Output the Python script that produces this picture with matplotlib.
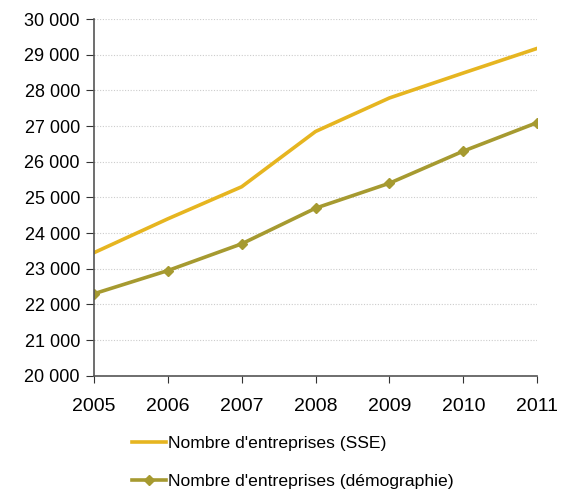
import matplotlib
matplotlib.use("Agg")
import matplotlib.pyplot as plt
from matplotlib.ticker import FuncFormatter

# Données
annees = [2005, 2006, 2007, 2008, 2009, 2010, 2011]
entreprises_sse = [23450, 24400, 25300, 26850, 27790, 28490, 29180]
entreprises_demo = [22300, 22950, 23700, 24700, 25400, 26300, 27100]

label_sse = "Nombre d'entreprises (SSE)"
label_demo = "Nombre d'entreprises (démographie)"

plt.rcParams['font.family'] = ['Liberation Sans', 'DejaVu Sans']

fig = plt.figure(figsize=(5.62, 4.90), dpi=100)
ax = fig.add_axes([0.167, 0.233, 0.789, 0.728])

ax.plot(annees, entreprises_sse, color="#E6B520", linewidth=2.6, label=label_sse)
ax.plot(annees, entreprises_demo, color="#A69A30", linewidth=2.6, marker="D",
        markersize=5, label=label_demo)

ax.set_xlim(2005, 2011)
ax.set_ylim(20000, 30000)
ax.set_xticks(annees)
ax.set_yticks(range(20000, 30001, 1000))
ax.yaxis.set_major_formatter(FuncFormatter(lambda v, p: f"{int(v):,}".replace(",", " ")))

ax.grid(axis="y", color="#CCCCCC", linestyle=(0, (1, 1.5)), linewidth=0.8)
ax.set_axisbelow(True)

for s in ["top", "right"]:
    ax.spines[s].set_visible(False)
for s in ["left", "bottom"]:
    ax.spines[s].set_color("#555555")
    ax.spines[s].set_linewidth(1.2)

ax.tick_params(axis="y", direction="out", length=6, color="#333333", labelsize=13, pad=4)
ax.tick_params(axis="x", direction="out", length=5, color="#333333", labelsize=14, pad=11)

leg = fig.legend(loc="upper left", bbox_to_anchor=(0.206, 0.142), frameon=False,
                 handlelength=1.95, handletextpad=0.15, labelspacing=1.3,
                 prop={'family': ['Liberation Sans', 'DejaVu Sans'], 'size': 12.6})

fig.savefig("out.png", dpi=100)
